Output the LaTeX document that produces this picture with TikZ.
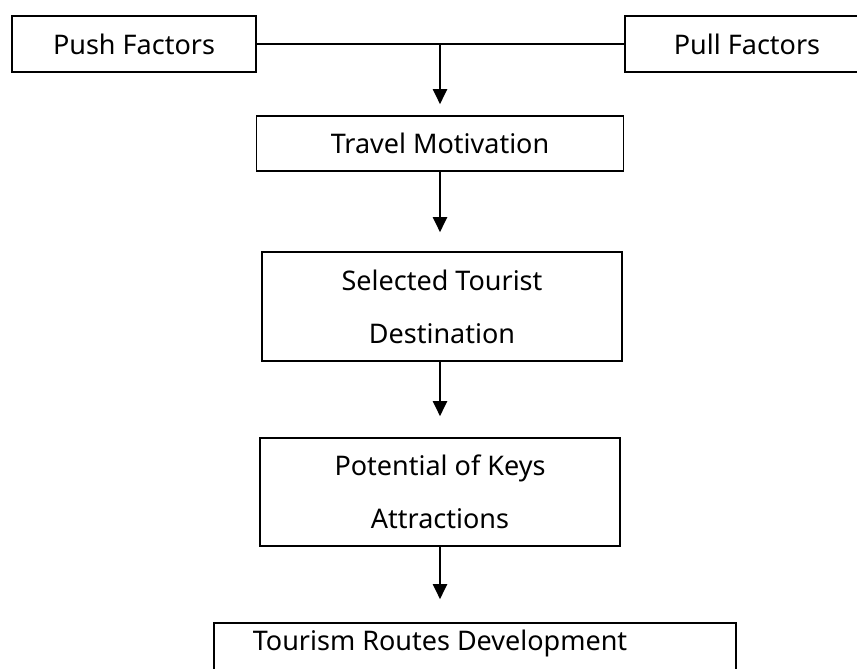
\documentclass[tikz,border=0pt]{standalone}
\usepackage{fontspec}
\newfontfamily\labelfont{Noto Sans}
\usetikzlibrary{arrows.meta}
\begin{document}
\begin{tikzpicture}[x=1pt,y=-1pt,
  lbl/.style={font=\labelfont\fontsize{27}{53}\selectfont, align=center},
  box/.style={lbl, draw=black, line width=1.6pt, rectangle, inner sep=0pt},
  arr/.style={line width=2pt, -{Triangle[width=14pt,length=15pt]}},
  link/.style={line width=1.6pt}]
\useasboundingbox (0,0) rectangle (857,669);
\clip (0,0) rectangle (857,669);
\node[box, minimum width=244pt, minimum height=56pt] (push) at (134,44) {Push Factors};
\node[box, minimum width=260pt, minimum height=56pt] (pull) at (755,44) {};
\node[lbl] (pulltext) at (747,44) {Pull Factors};
\coordinate (junc) at (440,44);
\draw[link] (push.east) -- (pull.west);
\node[box, minimum width=367pt, minimum height=55pt] (travel) at (440,143.5) {Travel Motivation};
\node[box, minimum width=360pt, minimum height=109pt] (selected) at (442,306.5) {Selected Tourist\\Destination};
\node[box, minimum width=360pt, minimum height=108pt] (potential) at (440,492) {Potential of Keys\\Attractions};
\node[box, minimum width=522pt, minimum height=100pt] (routes) at (475,673) {};
\node[lbl] (routestext) at (440,643) {Tourism Routes Development};
\draw[arr, shorten >=11pt] (junc) -- (travel.north);
\draw[arr, shorten >=19pt] (travel.south) -- (travel.south |- selected.north);
\draw[arr, shorten >=21pt] (selected.south -| travel.south) -- (potential.north);
\draw[arr, shorten >=23pt] (potential.south) -- (potential.south |- routes.north);
\end{tikzpicture}
\end{document}
